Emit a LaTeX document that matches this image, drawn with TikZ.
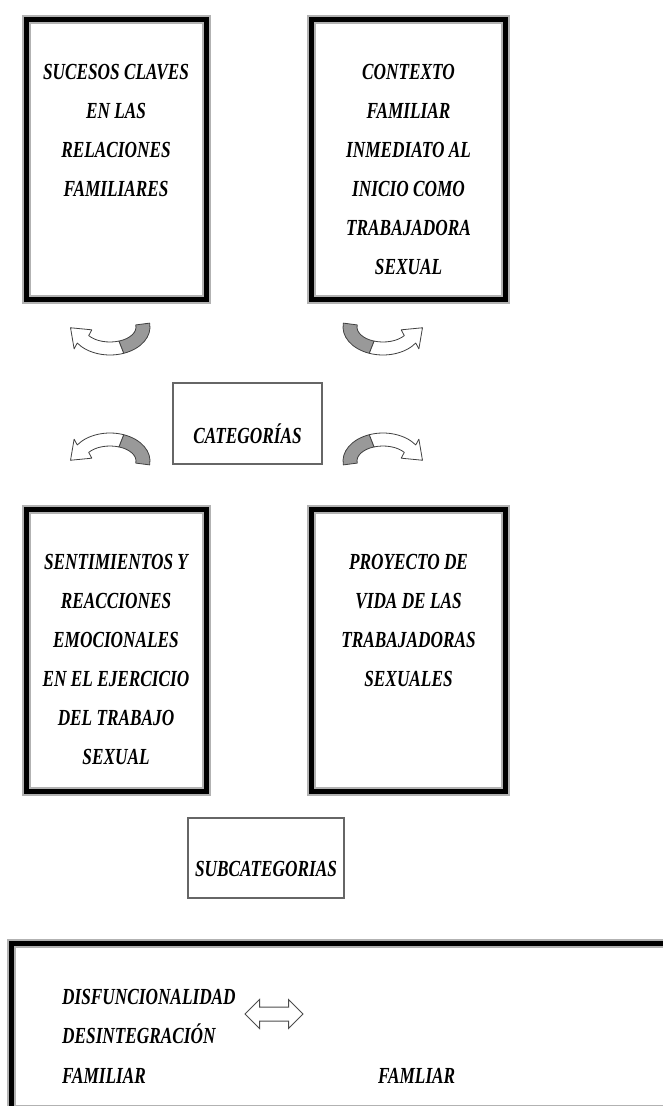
\documentclass[tikz,border=0pt]{standalone}
\usepackage{fontspec}
\usetikzlibrary{positioning,shapes.arrows}
\newfontfamily\casefont[FakeStretch=0.75]{Liberation Serif}
\newcommand{\casetext}{\casefont\bfseries\itshape\fontsize{23}{39}\selectfont}

\tikzstyle{bigbox}=[draw=black, line width=5pt, preaction={draw=gray!60, line width=9pt}, inner sep=0pt]
\tikzstyle{smallbox}=[draw=black!60, line width=2.5pt, inner sep=0pt, font=\casetext]
\tikzstyle{boxtext}=[align=center, inner sep=0pt, font=\casetext]
\tikzstyle{linetext}=[anchor=base west, inner sep=0pt, font=\casetext]
\tikzstyle{arrowline}=[draw=black!75, line width=0.8pt, line join=round]
\tikzstyle{twoway}=[double arrow, draw=black!70, line width=1pt, inner xsep=0pt, inner ysep=6.5pt, minimum height=58pt, double arrow head extend=7.5pt]

\tikzset{
  turnarrow/.pic={
    \draw[arrowline, fill=gray!80] (8:40 and 28) arc[start angle=8, end angle=-70, x radius=40, y radius=28]
      -- (-70:26 and 15) arc[start angle=-70, end angle=8, x radius=26, y radius=15] -- cycle;
    \draw[arrowline, fill=white] (-70:40 and 28) arc[start angle=-70, end angle=-145, x radius=40, y radius=28]
      -- (-35.88,-21.86) -- (-39.47,-0.76) -- (-18.18,-2.82)
      -- (-145:26 and 15) arc[start angle=-145, end angle=-70, x radius=26, y radius=15] -- cycle;
  }
}

\begin{document}
\begin{tikzpicture}[x=1pt, y=1pt]
    \useasboundingbox (0, 0) rectangle (663, -1106);
    \clip (0, 0) rectangle (663, -1106);
    % upper boxes
    \node[bigbox, minimum width=180, minimum height=280] (sucesos) at (116, -159) {};
    \node[bigbox, minimum width=194, minimum height=280] (contexto) at (408.5, -159) {};
    \node[boxtext, below=48pt of sucesos.north] (sucesostext) {SUCESOS CLAVES\\EN LAS\\RELACIONES\\FAMILIARES};
    \node[boxtext, below=48pt of contexto.north] (contextotext) {CONTEXTO\\FAMILIAR\\INMEDIATO AL\\INICIO COMO\\TRABAJADORA\\SEXUAL};
    % centre
    \node[smallbox, minimum width=149, text height=60pt, text depth=21pt] (categorias) at (247.5, -423.5) {CATEGORÍAS};
    \pic at (110, -327) {turnarrow};
    \pic[xscale=-1] at (383, -327) {turnarrow};
    \pic[yscale=-1] at (110, -461) {turnarrow};
    \pic[xscale=-1, yscale=-1] at (383, -461) {turnarrow};
    % lower boxes
    \node[bigbox, minimum width=180, minimum height=282] (sentimientos) at (116, -650) {};
    \node[bigbox, minimum width=194, minimum height=282] (proyecto) at (408.5, -650) {};
    \node[boxtext, below=48pt of sentimientos.north] (sentimientostext) {SENTIMIENTOS Y\\REACCIONES\\EMOCIONALES\\EN EL EJERCICIO\\DEL TRABAJO\\SEXUAL};
    \node[boxtext, below=48pt of proyecto.north] (proyectotext) {PROYECTO DE\\VIDA DE LAS\\TRABAJADORAS\\SEXUALES};
    \node[smallbox, minimum width=156, text height=58pt, text depth=22pt] (subcategorias) at (266, -858) {SUBCATEGORIAS};
    % bottom panel
    \node[bigbox, minimum width=688.5, minimum height=166] (panel) at (355.75, -1026) {};
    \node[linetext] (disfuncion) at (62, -1004) {DISFUNCIONALIDAD};
    \node[linetext] (desintegracion) at (62, -1043) {DESINTEGRACIÓN};
    \node[linetext] (familiar) at (62, -1083) {FAMILIAR};
    \node[linetext] (famliar) at (378, -1083) {FAMLIAR};
    \node[twoway] (relacion) at (274, -1014) {};
  \end{tikzpicture}
\end{document}
